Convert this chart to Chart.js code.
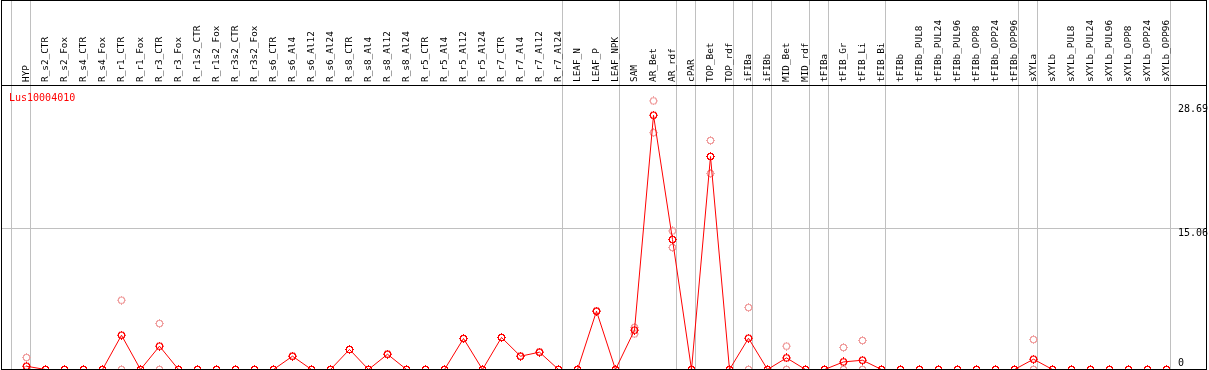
<!DOCTYPE html>
<html>
<head>
<meta charset="utf-8">
<script src="https://cdn.jsdelivr.net/npm/chart.js@4"></script>
<style>
  html, body { margin: 0; padding: 0; background: #fff; }
  #wrap { width: 1209px; height: 370px; }
</style>
</head>
<body>
<div id="wrap"><canvas id="c" width="1209" height="370"></canvas></div>
<script>
const categories = [
  "HYP","R_s2_CTR","R_s2_Fox","R_s4_CTR","R_s4_Fox","R_r1_CTR","R_r1_Fox","R_r3_CTR","R_r3_Fox",
  "R_r1s2_CTR","R_r1s2_Fox","R_r3s2_CTR","R_r3s2_Fox","R_s6_CTR","R_s6_Al4","R_s6_Al12","R_s6_Al24",
  "R_s8_CTR","R_s8_Al4","R_s8_Al12","R_s8_Al24","R_r5_CTR","R_r5_Al4","R_r5_Al12","R_r5_Al24",
  "R_r7_CTR","R_r7_Al4","R_r7_Al12","R_r7_Al24","LEAF_N","LEAF_P","LEAF_NPK","SAM","AR_Bet","AR_rdf",
  "cPAR","TOP_Bet","TOP_rdf","iFIBa","iFIBb","MID_Bet","MID_rdf","tFIBa","tFIB_Gr","tFIB_Li","tFIB_Bi",
  "tFIBb","tFIBb_PUL8","tFIBb_PUL24","tFIBb_PUL96","tFIBb_OPP8","tFIBb_OPP24","tFIBb_OPP96",
  "sXYLa","sXYLb","sXYLb_PUL8","sXYLb_PUL24","sXYLb_PUL96","sXYLb_OPP8","sXYLb_OPP24","sXYLb_OPP96"
];
const meanValues = [
  0.35,0,0,0,0,3.66,0,2.49,0,
  0,0,0,0,0,1.42,0,0,
  2.14,0,1.63,0,0,0,3.31,0,
  3.42,1.42,1.85,0,0,6.23,0,4.2,27.16,13.88,
  0,22.75,0,3.34,0,1.24,0,0,0.81,0.99,0,
  0,0,0,0,0,0,0,
  1.1,0,0,0,0,0,0,0
];
const replicateA = [
  1.28,0,0,0,0,7.4,0,4.91,0,
  0,0,0,0,0,1.42,0,0,
  2.14,0,1.63,0,0,0,3.31,0,
  3.42,1.42,1.85,0,0,6.23,0,4.5,28.69,14.8,
  0,24.46,0,6.62,0,2.49,0,0,2.35,3.1,0,
  0,0,0,0,0,0,0,
  3.2,0,0,0,0,0,0,0
];
const replicateB = [
  0,0,0,0,0,0,0,0,0,
  0,0,0,0,0,1.42,0,0,
  2.14,0,1.63,0,0,0,3.31,0,
  3.42,1.42,1.85,0,0,6.23,0,3.8,25.3,13.03,
  0,20.93,0,0,0,0,0,0,0,0,0,
  0,0,0,0,0,0,0,
  0,0,0,0,0,0,0,0
];
const yTickLabels = ["0","15.06","28.69"];
const yTickValues = [0, 15.06, 28.69];
const gridValues = [15.06];
const groupBreaks = [-1,0,28,31,34,35,37,38,39,41,42,45,52,53,60];
const geneName = "Lus10004010";

function makeMarker(color) {
  const pattern = [
    "....X....",
    "..XXXXX..",
    ".XX...XX.",
    ".X.....X.",
    "XX.....XX",
    ".X.....X.",
    ".XX...XX.",
    "..XXXXX..",
    "....X...."
  ];
  const c = document.createElement('canvas');
  c.width = 9; c.height = 9;
  const g = c.getContext('2d');
  g.fillStyle = color;
  pattern.forEach((row, r) => {
    for (let k = 0; k < row.length; k++) if (row[k] === 'X') g.fillRect(k, r, 1, 1);
  });
  return c;
}
const redMarker = makeMarker('#ff0000');
const pinkMarker = makeMarker('#f0a0a0');

const toXY = arr => arr.map((v, i) => ({ x: i, y: v }));

const decorPlugin = {
  id: 'decor',
  beforeDatasetsDraw(chart) {
    const ctx = chart.ctx, xs = chart.scales.x, ys = chart.scales.y;
    ctx.save();
    ctx.fillStyle = '#c0c0c0';
    gridValues.forEach(v => {
      const py = Math.floor(ys.getPixelForValue(v));
      ctx.fillRect(1, py, 1206, 1);
    });
    groupBreaks.forEach(k => {
      const px = Math.floor(xs.getPixelForValue(k) + 4 + 0.01);
      ctx.fillRect(px, 0, 1, 369);
    });
    ctx.restore();
  },
  afterDraw(chart) {
    const ctx = chart.ctx, xs = chart.scales.x, ys = chart.scales.y;
    ctx.save();
    ctx.fillStyle = '#000';
    ctx.font = "9.4px 'DejaVu Sans Mono'";
    ctx.textAlign = 'left';
    ctx.textBaseline = 'alphabetic';
    categories.forEach((lab, i) => {
      const px = xs.getPixelForValue(i);
      ctx.save();
      ctx.translate(px + 2.5, 82);
      ctx.rotate(-Math.PI / 2);
      ctx.fillText(lab, 0, 0);
      ctx.restore();
    });
    ctx.font = "10px 'DejaVu Sans Mono'";
    yTickValues.forEach((v, i) => {
      const py = ys.getPixelForValue(v);
      const off = v === 0 ? -3.5 : (i === yTickValues.length - 1 ? 11 : 7.5);
      ctx.fillText(yTickLabels[i], 1178, py + off);
    });
    ctx.fillStyle = '#ff0000';
    ctx.fillText(geneName, 9, 101);
    ctx.fillStyle = '#000';
    ctx.fillRect(1, 0, 1206, 1);
    ctx.fillRect(1, 0, 1, 370);
    ctx.fillRect(1206, 0, 1, 370);
    ctx.fillRect(1, 85, 1206, 1);
    ctx.fillRect(1, 369, 1206, 1);
    ctx.restore();
  }
};

new Chart(document.getElementById('c'), {
  type: 'line',
  data: {
    datasets: [
      {
        label: 'mean',
        data: toXY(meanValues),
        borderColor: '#ff0000',
        borderWidth: 1,
        pointStyle: redMarker,
        pointRadius: 5,
        tension: 0,
        fill: false,
        clip: false
      },
      {
        label: 'rep1',
        data: toXY(replicateA),
        showLine: false,
        pointStyle: pinkMarker,
        pointRadius: 5,
        clip: false
      },
      {
        label: 'rep2',
        data: toXY(replicateB),
        showLine: false,
        pointStyle: pinkMarker,
        pointRadius: 5,
        clip: false
      }
    ]
  },
  options: {
    responsive: false,
    devicePixelRatio: 1,
    animation: false,
    events: [],
    layout: { autoPadding: false, padding: { left: 1, right: 2, top: 85, bottom: 0 } },
    plugins: { legend: { display: false }, tooltip: { enabled: false } },
    scales: {
      x: { type: 'linear', display: false, min: -1.342105, max: 62.131579 },
      y: { type: 'linear', display: false, min: -0.0534, max: 30.387 }
    }
  },
  plugins: [decorPlugin]
});
</script>
</body>
</html>
